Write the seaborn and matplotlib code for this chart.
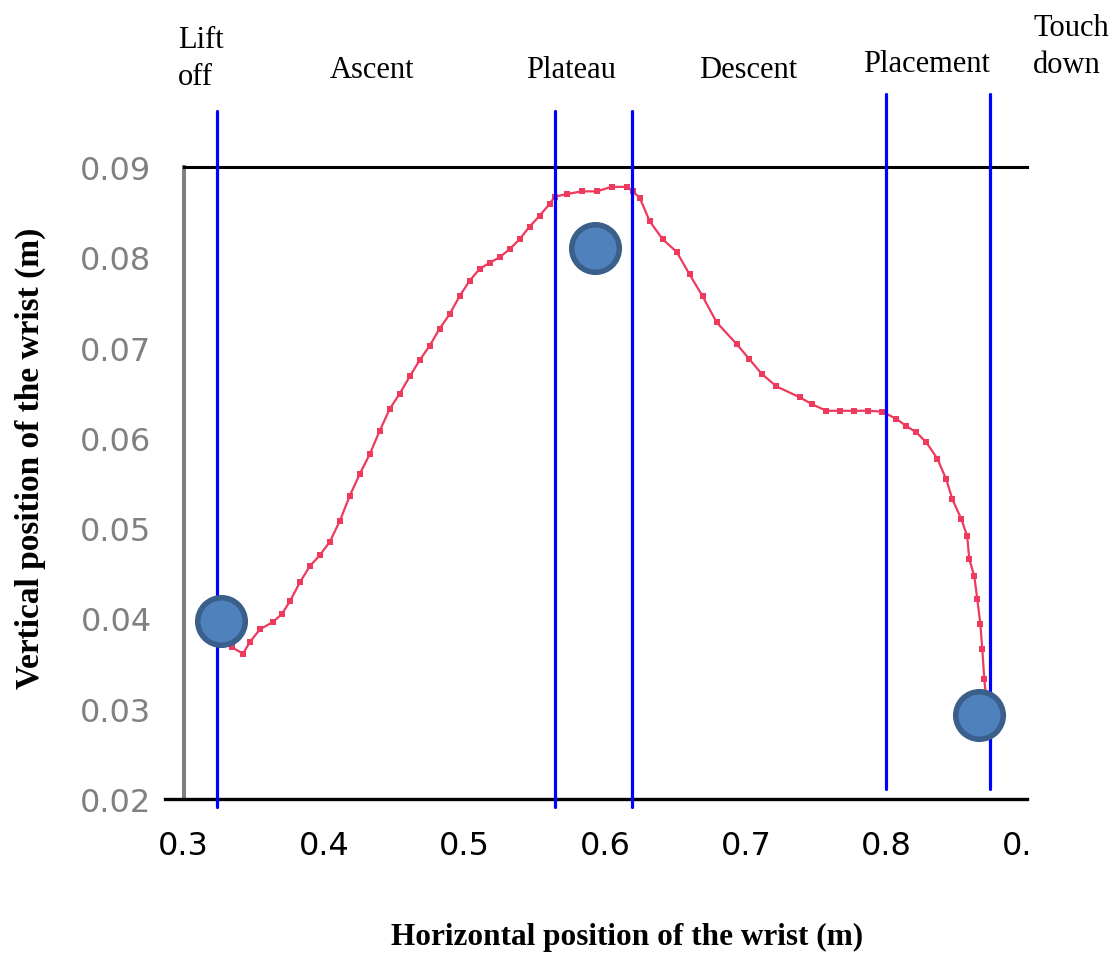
import numpy as np
import pandas as pd
import matplotlib
matplotlib.use("Agg")
import matplotlib.pyplot as plt
import seaborn as sns
from matplotlib.transforms import Bbox, TransformedBbox

# ---------------- data ----------------
x_wrist = [0.3345, 0.3423, 0.3473, 0.3544, 0.3636, 0.3700, 0.3757, 0.3828, 0.3899, 0.3970,
           0.4041, 0.4112, 0.4183, 0.4254, 0.4325, 0.4396, 0.4467, 0.4538, 0.4609, 0.4680,
           0.4751, 0.4822, 0.4893, 0.4964, 0.5035, 0.5106, 0.5178, 0.5249, 0.5320, 0.5391,
           0.5462, 0.5533, 0.5604, 0.5640, 0.5725, 0.5832, 0.5939, 0.6045, 0.6152, 0.6195,
           0.6245, 0.6316, 0.6408, 0.6508, 0.6600, 0.6692, 0.6792, 0.6934, 0.7026, 0.7112,
           0.7218, 0.7382, 0.7474, 0.7573, 0.7673, 0.7772, 0.7872, 0.7971, 0.8071, 0.8142,
           0.8213, 0.8284, 0.8362, 0.8426, 0.8469, 0.8533, 0.8575, 0.8589, 0.8625, 0.8646,
           0.8668, 0.8682, 0.8696, 0.8710]
y_wrist = [0.0368, 0.0361, 0.0374, 0.0388, 0.0396, 0.0405, 0.0419, 0.0440, 0.0458, 0.0470,
           0.0485, 0.0508, 0.0536, 0.0560, 0.0582, 0.0608, 0.0632, 0.0649, 0.0668, 0.0686,
           0.0702, 0.0721, 0.0737, 0.0757, 0.0774, 0.0787, 0.0794, 0.0800, 0.0809, 0.0820,
           0.0834, 0.0846, 0.0859, 0.0867, 0.0870, 0.0873, 0.0873, 0.0878, 0.0878, 0.0873,
           0.0866, 0.0840, 0.0820, 0.0806, 0.0781, 0.0757, 0.0728, 0.0704, 0.0687, 0.0671,
           0.0657, 0.0645, 0.0637, 0.0630, 0.0630, 0.0630, 0.0630, 0.0629, 0.0621, 0.0613,
           0.0606, 0.0595, 0.0577, 0.0554, 0.0532, 0.0510, 0.0491, 0.0466, 0.0447, 0.0422,
           0.0394, 0.0366, 0.0333, 0.0311]

key_x = [0.3267, 0.5924, 0.8657]
key_y = [0.0397, 0.0810, 0.0293]

phase_bounds = [0.3235, 0.564, 0.619, 0.800, 0.874]
phase_labels = ["Lift\noff", "Ascent", "Plateau", "Descent", "Placement", "Touch\ndown"]

x_ticks = [0.3, 0.4, 0.5, 0.6, 0.7, 0.8, 0.9]
x_tick_labels = ["0.3", "0.4", "0.5", "0.6", "0.7", "0.8", "0.9"]
x_minor = [0.35, 0.45, 0.55, 0.65, 0.75, 0.85]
y_ticks = [0.02, 0.03, 0.04, 0.05, 0.06, 0.07, 0.08, 0.09]
y_tick_labels = ["0.02", "0.03", "0.04", "0.05", "0.06", "0.07", "0.08", "0.09"]

x_title = "Horizontal position of the wrist (m)"
y_title = "Vertical position of the wrist (m)"

# ---------------- style ----------------
sns.set_style("white")
plt.rcParams["font.family"] = ["DejaVu Sans"]

W, H = 1112, 954
fig = plt.figure(figsize=(W / 100, H / 100), dpi=100)
fig.patch.set_facecolor("white")

px0, px1, py0, py1 = 183.5, 1027.0, 168.0, 800.0
ax = fig.add_axes([px0 / W, 1 - py1 / H, (px1 - px0) / W, (py1 - py0) / H])
ax.set_facecolor("white")
ax.set_xlim(0.3, 0.9)
ax.set_ylim(0.02, 0.09)

df = pd.DataFrame({"x": x_wrist, "y": y_wrist})
sns.lineplot(data=df, x="x", y="y", ax=ax, color="#EE3A5C", linewidth=1.6,
             sort=False, estimator=None, zorder=3,
             marker="s", markersize=4.2, markeredgewidth=0, markerfacecolor="#EE3A5C")

# phase boundary lines (extend outside the axes)
for i, xb in enumerate(phase_bounds):
    if i < 3:
        lo, hi = -8 / 632, 688 / 632
    else:
        lo, hi = 10 / 632, 705 / 632
    ax.axvline(xb, ymin=lo, ymax=hi, color="#0000FF", linewidth=2.3, clip_on=False, zorder=4)

kd = pd.DataFrame({"x": key_x, "y": key_y})
sns.scatterplot(data=kd, x="x", y="y", ax=ax, s=1170, color="#4F81BD",
                edgecolor="#3A5F8B", linewidth=4, zorder=6, clip_on=False, legend=False)

# spines
ax.spines["right"].set_visible(False)
ax.spines["top"].set_color("black")
ax.spines["top"].set_linewidth(2.2)
ax.spines["left"].set_color("#808080")
ax.spines["left"].set_linewidth(2.9)
ax.spines["bottom"].set_color("black")
ax.spines["bottom"].set_linewidth(2.4)
ax.spines["bottom"].set_bounds(0.2868, 0.9)

ax.set_xticks(x_ticks)
ax.set_xticklabels(x_tick_labels)
ax.set_xticks(x_minor, minor=True)
ax.set_yticks(y_ticks)
ax.set_yticklabels(y_tick_labels)
ax.tick_params(axis="x", which="major", direction="out", length=13.5, width=2.4,
               color="black", labelsize=23, labelcolor="black", pad=9)
ax.tick_params(axis="x", which="minor", direction="out", length=5.8, width=2.4, color="black")
ax.tick_params(axis="y", which="major", direction="out", length=13, width=2.4,
               color="#808080", labelsize=23, labelcolor="#808080", pad=10)
ax.tick_params(axis="y", which="minor", length=0)

# clip last x tick label at the axis end
clipbox = TransformedBbox(Bbox([[0.2, -1.0], [0.9005, 2.0]]), ax.get_xaxis_transform())
for lbl in ax.get_xticklabels():
    lbl.set_clip_on(True)
    lbl.set_clip_box(clipbox)

serif = ["Liberation Serif", "DejaVu Serif"]
ax.set_xlabel(x_title, fontsize=22.5, fontweight="bold", family=serif, color="black")
ax.set_ylabel(y_title, fontsize=24, fontweight="bold", family=serif, color="black")
ax.xaxis.set_label_coords((627 - px0) / (px1 - px0), (py1 - 937) / (py1 - py0))
ax.xaxis.label.set_verticalalignment("center")
ax.yaxis.set_label_coords((30 - px0) / (px1 - px0), (py1 - 458) / (py1 - py0))
ax.yaxis.label.set_verticalalignment("center")

# phase names above the chart
label_pos = [(178, 59, "left"), (372, 70, "center"), (571, 70, "center"),
             (748, 70, "center"), (926, 65, "center"), (1033, 47, "left")]
for (lx, ly, ha), txt in zip(label_pos, phase_labels):
    fig.text(lx / W, 1 - ly / H, txt, ha=ha, va="center", fontsize=22,
             family=serif, color="black", linespacing=1.35)

fig.savefig("out.png", dpi=100)
